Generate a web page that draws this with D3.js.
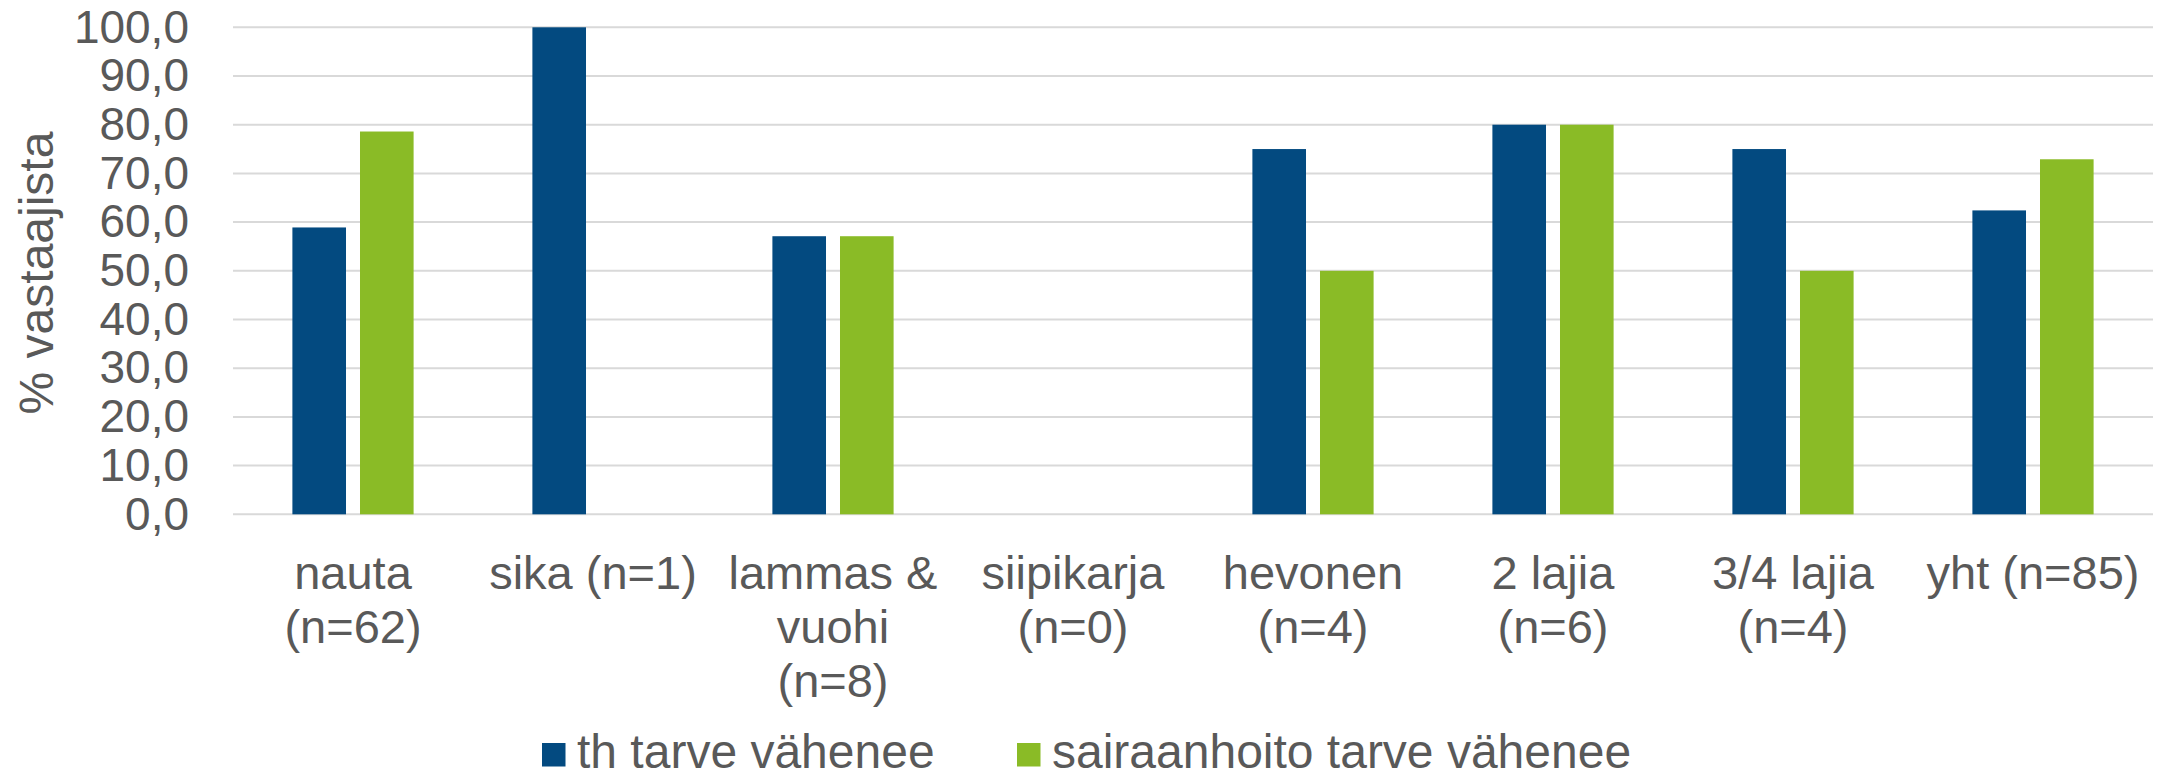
<!DOCTYPE html>
<html>
<head>
<meta charset="utf-8">
<script src="https://cdn.jsdelivr.net/npm/d3@7/dist/d3.min.js"></script>
<style>
  html, body { margin: 0; padding: 0; background: #ffffff; }
  svg { display: block; }
  text { font-family: "Liberation Sans", Arial, sans-serif; fill: #595959; }
</style>
</head>
<body>
<svg id="chart" width="2167" height="780"></svg>
<script>
// ---- data ----
const categories = [
  "nauta\n(n=62)",
  "sika (n=1)",
  "lammas &\nvuohi\n(n=8)",
  "siipikarja\n(n=0)",
  "hevonen\n(n=4)",
  "2 lajia\n(n=6)",
  "3/4 lajia\n(n=4)",
  "yht (n=85)"
];
const seriesNames = ["th tarve vähenee", "sairaanhoito tarve vähenee"];
const thValues = [58.9, 100.0, 57.1, null, 75.0, 80.0, 75.0, 62.4];
const sairaanhoitoValues = [78.6, null, 57.1, null, 50.0, 80.0, 50.0, 72.9];
const yTicks = [0, 10, 20, 30, 40, 50, 60, 70, 80, 90, 100];
const yTitle = "% vastaajista";
const colors = ["#034A80", "#8ABB26"];

// ---- layout ----
const svg = d3.select("#chart");
const plotLeft = 233, plotRight = 2153, plotTop = 27.3, plotBottom = 514.3;

const x0 = d3.scaleBand().domain(d3.range(categories.length)).range([plotLeft, plotRight]).padding(0);
const bw = x0.bandwidth();
const groupW = bw * 0.505;
const x1 = d3.scaleBand().domain(d3.range(seriesNames.length))
  .range([-groupW / 2, groupW / 2]).paddingInner(0.207).paddingOuter(0);
const y = d3.scaleLinear().domain([0, 100]).range([plotBottom, plotTop]);

// gridlines
svg.append("g").selectAll("line").data(yTicks).join("line")
  .attr("x1", plotLeft).attr("x2", plotRight)
  .attr("y1", d => y(d)).attr("y2", d => y(d))
  .attr("stroke", "#d9d9d9").attr("stroke-width", 2);

// y axis labels
const yAxis = d3.axisLeft(y).tickValues(yTicks)
  .tickFormat(d => d3.format(".1f")(d).replace(".", ","))
  .tickSize(0).tickPadding(44);
const ya = svg.append("g").attr("transform", `translate(${plotLeft},0)`).call(yAxis);
ya.select(".domain").remove();
ya.selectAll("text")
  .style("font-family", '"Liberation Sans", Arial, sans-serif')
  .attr("font-size", 46).attr("fill", "#595959");

// y title
svg.append("text")
  .attr("transform", `translate(53,273) rotate(-90)`)
  .attr("text-anchor", "middle")
  .attr("font-size", 48).text(yTitle);

// bars
const allSeries = [thValues, sairaanhoitoValues];
const barData = [];
allSeries.forEach((vals, s) => vals.forEach((v, i) => {
  if (v !== null) barData.push({ i, s, v });
}));
svg.append("g").selectAll("rect").data(barData).join("rect")
  .attr("x", d => x0(d.i) + bw / 2 + x1(d.s))
  .attr("width", x1.bandwidth())
  .attr("y", d => y(d.v))
  .attr("height", d => y(0) - y(d.v))
  .attr("fill", d => colors[d.s]);

// category labels
const lineH = 54;
const cg = svg.append("g");
categories.forEach((c, i) => {
  const t = cg.append("text")
    .attr("x", x0(i) + bw / 2)
    .attr("y", 589)
    .attr("text-anchor", "middle")
    .attr("font-size", 47);
  c.split("\n").forEach((ln, k) => {
    t.append("tspan").attr("x", x0(i) + bw / 2).attr("dy", k === 0 ? 0 : lineH).text(ln);
  });
});

// legend
const legendX = [542, 1017];
const lg = svg.append("g");
seriesNames.forEach((n, s) => {
  lg.append("rect").attr("x", legendX[s]).attr("y", 743).attr("width", 23.5).attr("height", 23.5)
    .attr("fill", colors[s]);
  lg.append("text").attr("x", legendX[s] + 35).attr("y", 768)
    .attr("font-size", 48).text(n);
});
</script>
</body>
</html>
